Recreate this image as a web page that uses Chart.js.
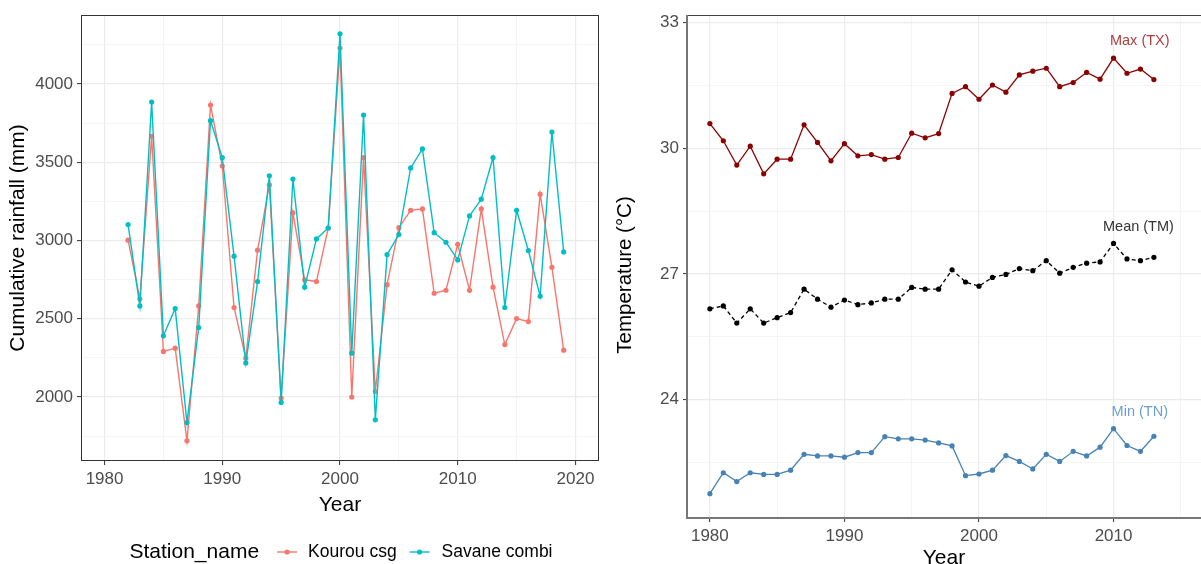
<!DOCTYPE html>
<html>
<head>
<meta charset="utf-8">
<script src="https://cdn.jsdelivr.net/npm/chart.js@4.4.1/dist/chart.umd.min.js"></script>
<style>
  html, body { margin: 0; padding: 0; background: #fff; overflow: hidden; width: 1201px; height: 564px; }
  #rain { position: absolute; left: 0; top: 0; }
  #temp { position: absolute; left: 600px; top: 0; }
</style>
</head>
<body>
<canvas id="rain" width="603" height="564"></canvas>
<canvas id="temp" width="605" height="580"></canvas>
<script>
// ---- data -------------------------------------------------------------------
const rainYears = [1982, 1983, 1984, 1985, 1986, 1987, 1988, 1989, 1990, 1991, 1992, 1993, 1994,
  1995, 1996, 1997, 1998, 1999, 2000, 2001, 2002, 2003, 2004, 2005, 2006, 2007, 2008, 2009,
  2010, 2011, 2012, 2013, 2014, 2015, 2016, 2017, 2018, 2019];
const kourou = [3002, 2627, 3666, 2291, 2312, 1720, 2582, 3866, 3476, 2572, 2248, 2938, 3355,
  1993, 3176, 2749, 2738, 3080, 4230, 2000, 3530, 2035, 2718, 3082, 3193, 3202, 2663, 2682,
  2976, 2682, 3202, 2702, 2335, 2501, 2482, 3296, 2829, 2299];
const savane = [3102, 2582, 3885, 2391, 2565, 1837, 2444, 3766, 3530, 2900, 2218, 2738, 3413,
  1965, 3393, 2702, 3010, 3080, 4321, 2280, 3802, 1854, 2910, 3038, 3464, 3585, 3050, 2989,
  2876, 3157, 3264, 3530, 2572, 3193, 2936, 2644, 3693, 2927];
const stationNames = ["Kourou csg", "Savane combi"];
const rainXTicks = [1980, 1985, 1990, 1995, 2000, 2005, 2010, 2015, 2020];
const rainYTicks = [1750, 2000, 2250, 2500, 2750, 3000, 3250, 3500, 3750, 4000, 4250];

const tempYears = [1980, 1981, 1982, 1983, 1984, 1985, 1986, 1987, 1988, 1989, 1990, 1991, 1992,
  1993, 1994, 1995, 1996, 1997, 1998, 1999, 2000, 2001, 2002, 2003, 2004, 2005, 2006, 2007,
  2008, 2009, 2010, 2011, 2012, 2013];
const tmax = [30.59, 30.18, 29.60, 30.05, 29.39, 29.74, 29.74, 30.56, 30.14, 29.70, 30.11, 29.82,
  29.85, 29.74, 29.78, 30.36, 30.25, 30.35, 31.31, 31.47, 31.17, 31.51, 31.34, 31.75, 31.84,
  31.91, 31.47, 31.57, 31.81, 31.65, 32.15, 31.79, 31.89, 31.64];
const tmean = [26.17, 26.24, 25.83, 26.17, 25.83, 25.96, 26.08, 26.64, 26.40, 26.21, 26.38, 26.27,
  26.31, 26.40, 26.40, 26.68, 26.64, 26.64, 27.10, 26.81, 26.71, 26.92, 26.99, 27.13, 27.08,
  27.32, 27.02, 27.16, 27.26, 27.29, 27.73, 27.36, 27.32, 27.40];
const tmin = [21.76, 22.26, 22.05, 22.26, 22.22, 22.22, 22.32, 22.70, 22.66, 22.66, 22.63, 22.74,
  22.74, 23.12, 23.07, 23.07, 23.04, 22.97, 22.90, 22.19, 22.23, 22.32, 22.67, 22.53, 22.35,
  22.70, 22.53, 22.77, 22.66, 22.87, 23.31, 22.91, 22.77, 23.13];
const tempLabels = ["Max (TX)", "Mean (TM)", "Min (TN)"];
const tempLabelX = [2011.95, 2011.85, 2011.95];
const tempLabelY = [32.55, 28.12, 23.7];
const tempXTicks = [1980, 1985, 1990, 1995, 2000, 2005, 2010, 2015];
const tempYTicks = [22.5, 24, 25.5, 27, 28.5, 30, 31.5, 33];

// ---- look -------------------------------------------------------------------
const FONT = "'Liberation Sans', Arial, sans-serif";
const RED = "#F8766D", CYAN = "#00BFC4";
const DARKRED = "#8B0000", STEEL = "#4682B4";
const xy = (xs, ys) => xs.map((x, i) => ({ x, y: ys[i] }));

// ggplot-ish grid: majors labelled + ticked, minors thinner and silent
function ggAxis(ticks, isMajor, title, extra) {
  return Object.assign({
    type: "linear",
    afterBuildTicks: (s) => { s.ticks = ticks.map((v) => ({ value: v })); },
    border: { display: false },
    grid: {
      color: (c) => (c.tick && isMajor(c.tick.value) ? "#ebebeb" : "#f3f3f3"),
      lineWidth: (c) => (c.tick && isMajor(c.tick.value) ? 1.2 : 0.8),
      tickColor: (c) => (c.tick && isMajor(c.tick.value) ? "#333" : "rgba(0,0,0,0)"),
      tickLength: 4,
      tickWidth: 1,
    },
    ticks: {
      autoSkip: false, maxRotation: 0, padding: 4, color: "#4d4d4d",
      font: { family: FONT, size: 17 },
      callback: (v) => (isMajor(v) ? String(v) : ""),
    },
    title: { display: true, text: title, color: "#000", font: { family: FONT, size: 21 } },
  }, extra);
}

const rainBorder = {
  id: "rainBorder",
  afterDraw(chart) {
    const { ctx, chartArea: a } = chart;
    ctx.save();
    ctx.strokeStyle = "#333"; ctx.lineWidth = 1;
    ctx.strokeRect(a.left + 0.5, a.top + 0.5, a.right - a.left - 1, a.bottom - a.top - 1);
    ctx.restore();
  },
};

// legend under the plot: title + line/point keys, centred on the panel
const rainLegend = {
  id: "rainLegend",
  afterDraw(chart) {
    const { ctx, chartArea: a } = chart;
    const cy = 552;
    ctx.save();
    ctx.textBaseline = "middle";
    ctx.font = `21px ${FONT}`;
    const tw = ctx.measureText("Station_name").width;
    ctx.font = `17.5px ${FONT}`;
    const lw = stationNames.map((n) => ctx.measureText(n).width);
    const total = tw + 18 + (20 + 11 + lw[0]) + 13 + (20 + 12 + lw[1]);
    let x = (a.left + a.right) / 2 - total / 2 + 1;
    ctx.fillStyle = "#000";
    ctx.font = `21px ${FONT}`;
    ctx.fillText("Station_name", x, cy);
    x += tw + 18;
    ctx.font = `17.5px ${FONT}`;
    chart.data.datasets.slice().sort((p, q) => p.key - q.key).forEach((ds, i) => {
      ctx.strokeStyle = ds.borderColor; ctx.lineWidth = 1.4;
      ctx.beginPath(); ctx.moveTo(x, cy); ctx.lineTo(x + 20, cy); ctx.stroke();
      ctx.fillStyle = ds.borderColor;
      ctx.beginPath(); ctx.arc(x + 10, cy, 2.6, 0, Math.PI * 2); ctx.fill();
      x += 20 + (i ? 12 : 11);
      ctx.fillStyle = "#000";
      ctx.fillText(stationNames[i], x, cy);
      x += lw[i] + 13;
    });
    ctx.restore();
  },
};

const xRain = ggAxis(rainXTicks, (v) => v % 10 === 0, "Year", {
  min: 1978, max: 2022, afterFit: (s) => { s.height = 61; },
});
xRain.title.padding = { top: 0, bottom: 4 };
const yRain = ggAxis(rainYTicks, (v) => v % 500 === 0, "Cumulative rainfall (mm)", {
  min: 1591, max: 4441, afterFit: (s) => { s.width = 81; },
});
yRain.title.padding = { top: 6, bottom: 0 };

new Chart(document.getElementById("rain"), {
  type: "line",
  data: {
    datasets: [
      { key: 1, label: stationNames[1], data: xy(rainYears, savane), order: 0,
        borderColor: CYAN, backgroundColor: CYAN, borderWidth: 1.4,
        pointRadius: 2.6, pointBorderWidth: 0, tension: 0 },
      { key: 0, label: stationNames[0], data: xy(rainYears, kourou), order: 1,
        borderColor: RED, backgroundColor: RED, borderWidth: 1.4,
        pointRadius: 2.6, pointBorderWidth: 0, tension: 0 },
    ],
  },
  options: {
    responsive: false, animation: false,
    layout: { padding: { left: 0, right: 0, top: 15, bottom: 42 } },
    plugins: { legend: { display: false }, tooltip: { enabled: false } },
    scales: { x: xRain, y: yRain },
  },
  plugins: [rainBorder, rainLegend],
});

const tempFrame = {
  id: "tempFrame",
  afterDraw(chart) {
    const { ctx, chartArea: a } = chart;
    ctx.save();
    ctx.strokeStyle = "#444"; ctx.lineWidth = 1;
    ctx.beginPath(); ctx.moveTo(a.left, a.top + 0.5); ctx.lineTo(a.right, a.top + 0.5); ctx.stroke();
    ctx.strokeStyle = "#777"; ctx.lineWidth = 2;
    ctx.beginPath();
    ctx.moveTo(a.left, a.top); ctx.lineTo(a.left, a.bottom); ctx.lineTo(a.right, a.bottom);
    ctx.stroke();
    // y title: ggplot centres it on the (cropped) full panel, a bit below the visible middle
    ctx.fillStyle = "#000";
    ctx.font = `20.5px ${FONT}`;
    ctx.textAlign = "center"; ctx.textBaseline = "middle";
    ctx.translate(25, 275); ctx.rotate(-Math.PI / 2);
    ctx.fillText("Temperature (°C)", 0, 0);
    ctx.restore();
  },
};

const tempText = {
  id: "tempText",
  afterDatasetsDraw(chart) {
    const { ctx, scales } = chart;
    const cols = ["#a8413f", "#333333", "#6b9fd3"];
    ctx.save();
    ctx.font = `14.5px ${FONT}`;
    ctx.textAlign = "center"; ctx.textBaseline = "middle";
    tempLabels.forEach((t, i) => {
      ctx.fillStyle = cols[i];
      ctx.fillText(t, scales.x.getPixelForValue(tempLabelX[i]), scales.y.getPixelForValue(tempLabelY[i]));
    });
    ctx.restore();
  },
};

const yTemp = ggAxis(tempYTicks, (v) => v % 3 === 0, "Temperature (°C)", {
  min: 21.18, max: 33.18, afterFit: (s) => { s.width = 87; },
});
yTemp.title = { display: false };
const xTemp = ggAxis(tempXTicks, (v) => v % 10 === 0, "Year", {
  min: 1978.3, max: 2016.5, afterFit: (s) => { s.height = 62; },
});
xTemp.title.padding = { top: 0, bottom: 9 };

new Chart(document.getElementById("temp"), {
  type: "line",
  data: {
    datasets: [
      { data: xy(tempYears, tmax), borderColor: DARKRED, backgroundColor: DARKRED,
        borderWidth: 1.3, pointRadius: 2.6, pointBorderWidth: 0, tension: 0 },
      { data: xy(tempYears, tmean), borderColor: "#000", backgroundColor: "#000", borderDash: [4, 3],
        borderWidth: 1.3, pointRadius: 2.6, pointBorderWidth: 0, tension: 0 },
      { data: xy(tempYears, tmin), borderColor: STEEL, backgroundColor: STEEL,
        borderWidth: 1.3, pointRadius: 2.6, pointBorderWidth: 0, tension: 0 },
    ],
  },
  options: {
    responsive: false, animation: false,
    layout: { padding: { left: 0, right: 0, top: 15, bottom: 0 } },
    plugins: { legend: { display: false }, tooltip: { enabled: false } },
    scales: { x: xTemp, y: yTemp },
  },
  plugins: [tempFrame, tempText],
});
</script>
</body>
</html>
